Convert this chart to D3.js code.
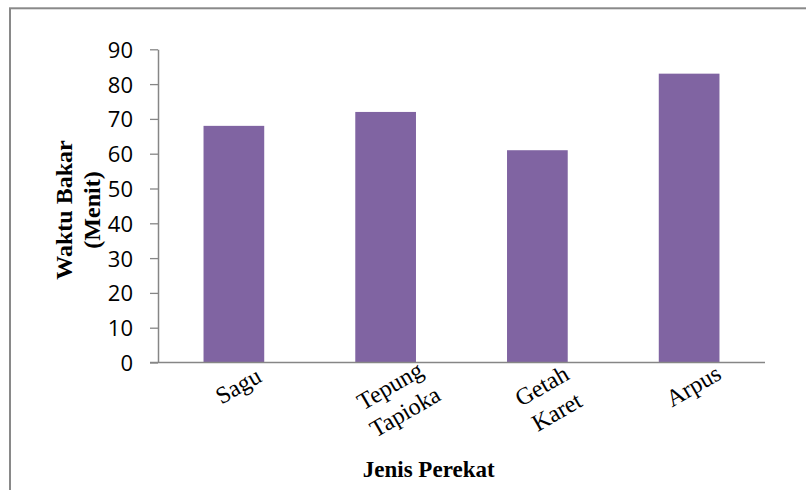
<!DOCTYPE html>
<html>
<head>
<meta charset="utf-8">
<script src="https://cdn.jsdelivr.net/npm/d3@7"></script>
<style>
  html, body { margin: 0; padding: 0; background: #fff; }
  svg { display: block; }
</style>
</head>
<body>
<svg id="chart" width="806" height="490"></svg>
<script>
const categories = [["Sagu"], ["Tepung", "Tapioka"], ["Getah", "Karet"], ["Arpus"]];
const values = [68, 72, 61, 83];
const yTicks = [0, 10, 20, 30, 40, 50, 60, 70, 80, 90];
const yTitle = ["Waktu Bakar", "(Menit)"];
const xTitle = "Jenis Perekat";

(function () {
const svg = d3.select("#chart");
const pLeft = 158, pRight = 765, pTop = 49.3, pBottom = 362.5;

// outer border
svg.append("rect")
  .attr("x", 10).attr("y", 8.3).attr("width", 900).attr("height", 600)
  .attr("fill", "none").attr("stroke", "#898989").attr("stroke-width", 2);

const keys = categories.map(c => c.join(" "));
const x = d3.scaleBand().domain(keys).range([pLeft, pRight]).paddingInner(0).paddingOuter(0);
const y = d3.scaleLinear().domain([0, 90]).range([pBottom, pTop]);

const barW = x.bandwidth() * 0.4;

// bars
svg.append("g").selectAll("rect")
  .data(values)
  .join("rect")
  .attr("x", (d, i) => x(keys[i]) + x.bandwidth() / 2 - barW / 2)
  .attr("y", d => y(d))
  .attr("width", barW)
  .attr("height", d => y(0) - y(d))
  .attr("fill", "#8064A2");

// y axis
const yAxis = svg.append("g")
  .attr("transform", `translate(${pLeft},0)`)
  .call(d3.axisLeft(y).tickValues(yTicks).tickSize(8).tickPadding(17).tickSizeOuter(0));
yAxis.select(".domain").attr("stroke", "#868686").attr("stroke-width", 1.5);
yAxis.selectAll(".tick line").attr("stroke", "#868686").attr("stroke-width", 1.3);
yAxis.selectAll(".tick text")
  .attr("font-family", "'Open Sans', sans-serif")
  .attr("font-size", 22)
  .attr("fill", "#000")
  .attr("dy", "0.36em");

// x axis line
const xAxis = svg.append("g")
  .attr("transform", `translate(0,${pBottom})`)
  .call(d3.axisBottom(x).tickSize(0).tickFormat(""));
xAxis.select(".domain").remove();
xAxis.append("line")
  .attr("x1", pLeft - 8).attr("x2", pRight)
  .attr("stroke", "#868686").attr("stroke-width", 1.4);

// x tick labels (rotated, multi-line)
const lbl = svg.append("g").selectAll("text")
  .data(categories)
  .join("text")
  .attr("transform", (d, i) => `translate(${x(keys[i]) + x.bandwidth() / 2 - 1},${pBottom + 14}) rotate(-30)`)
  .attr("font-family", "'Liberation Serif', 'Times New Roman', serif")
  .attr("font-size", 24)
  .attr("text-anchor", "middle")
  .attr("fill", "#000");
lbl.selectAll("tspan")
  .data(d => d)
  .join("tspan")
  .attr("x", 0)
  .attr("dy", (d, i) => i === 0 ? "0.78em" : "1.25em")
  .text(d => d);

// y title
const yt = svg.append("text")
  .attr("transform", "translate(71.5,210) rotate(-90)")
  .attr("font-family", "'Liberation Serif', 'Times New Roman', serif")
  .attr("font-size", 24)
  .attr("font-weight", "bold")
  .attr("text-anchor", "middle")
  .attr("fill", "#000");
yt.selectAll("tspan").data(yTitle).join("tspan")
  .attr("x", 0)
  .attr("dy", (d, i) => i === 0 ? 0 : 28)
  .text(d => d);

// x title
svg.append("text")
  .attr("x", 428.7).attr("y", 476.7)
  .attr("font-family", "'Liberation Serif', 'Times New Roman', serif")
  .attr("font-size", 23)
  .attr("font-weight", "bold")
  .attr("text-anchor", "middle")
  .attr("fill", "#000")
  .text(xTitle);
})();
</script>
</body>
</html>
